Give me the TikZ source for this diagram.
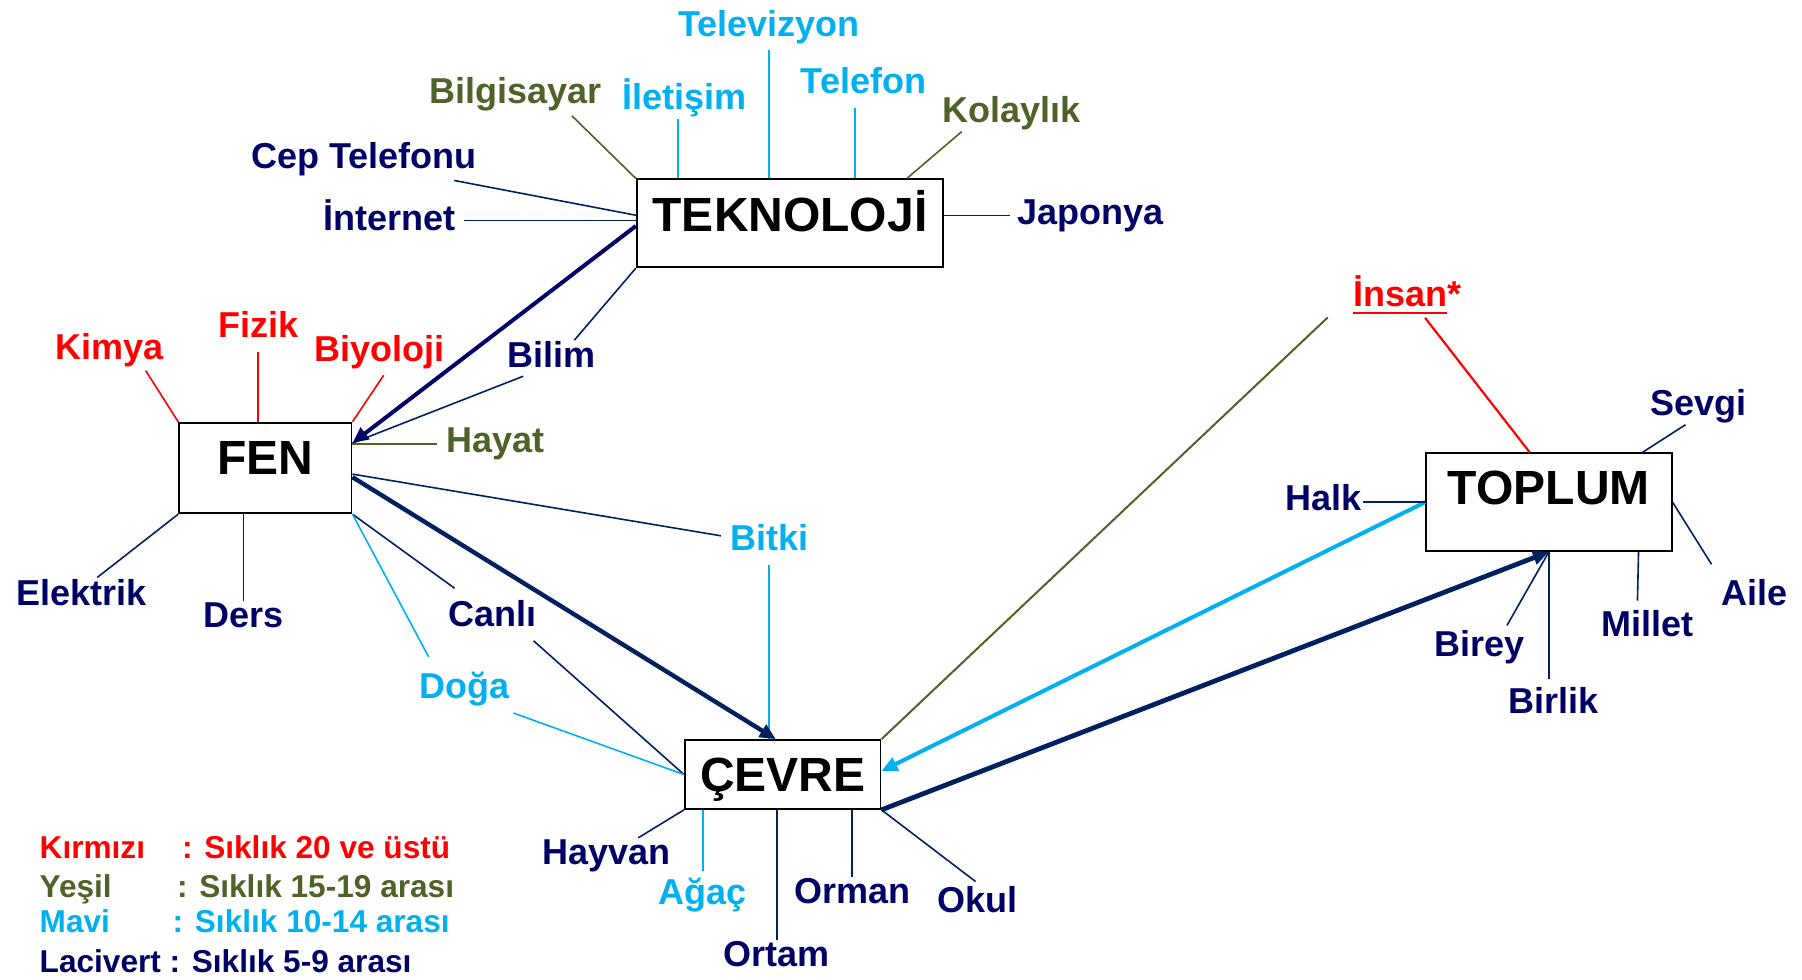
\documentclass[tikz,border=0pt]{standalone}
\usepackage{fontspec}
\setmainfont{Liberation Sans}
\usetikzlibrary{arrows.meta}

\definecolor{kirmizi}{RGB}{255,0,0}
\definecolor{yesil}{RGB}{79,98,40}
\definecolor{mavi}{RGB}{0,176,240}
\definecolor{lacivert}{RGB}{0,0,102}
\definecolor{cizgi}{RGB}{0,32,96}

% underline with a thicker rule
\newcommand{\altcizgi}[1]{\setbox0\hbox{#1}\rlap{\rule[-3.5pt]{\wd0}{1pt}}\box0}

\begin{document}
\begin{tikzpicture}[x=0.5pt, y=-0.5pt,
    kutu/.style={draw=black, line width=0.85pt, fill=white, inner sep=0pt,
      font=\fontsize{24pt}{26pt}\selectfont\bfseries, text height=17.25pt},
    kelime/.style={anchor=base, inner sep=0.5pt,
      font=\fontsize{18pt}{20pt}\selectfont\bfseries},
    lejant/.style={anchor=base west, inner sep=0pt,
      font=\fontsize{15.8pt}{17pt}\selectfont\bfseries},
    ince/.style={line width=0.8pt},
    kalin/.style={line width=2.2pt, -{Triangle[length=8pt,width=7pt]}}]

    \useasboundingbox (0,0) rectangle (1802,979);

    % Main boxes
    \node[kutu, minimum width=153.3pt, minimum height=44pt, text depth=9.55pt] (tek) at (790,223.3) {TEKNOLOJİ};
    \node[kutu, minimum width=86.25pt, minimum height=45.3pt, text depth=11.25pt] (fen) at (265.35,468) {FEN};
    \node[kutu, minimum width=97.9pt, minimum height=34.5pt, text depth=0pt] (cev) at (782.7,774.5) {ÇEVRE};
    \node[kutu, minimum width=122.85pt, minimum height=48.85pt, text depth=14.45pt] (toplum) at (1548.85,502.15) {TOPLUM\hspace{7pt}};

    % Words round TEKNOLOJİ
    \node[kelime, mavi] (tv) at (769.2,36.7) {Televizyon};
    \node[kelime, mavi] (ilet) at (684.9,110) {İletişim};
    \node[kelime, mavi] (tel) at (863.5,94) {Telefon};
    \node[kelime, yesil] (bilg) at (515.3,103.3) {Bilgisayar};
    \node[kelime, yesil] (kol) at (1011.7,122.7) {Kolaylık};
    \node[kelime, lacivert] (cep) at (364,168.3) {Cep Telefonu};
    \node[kelime, lacivert] (inet) at (389.6,230.7) {İnternet};
    \node[kelime, lacivert] (jap) at (1090.9,224) {Japonya};
    \node[kelime, lacivert] (bilim) at (551.2,367.7) {Bilim};

    % Words round FEN
    \node[kelime, kirmizi] (kimya) at (109.9,359.3) {Kimya};
    \node[kelime, kirmizi] (fizik) at (258.1,337.7) {Fizik};
    \node[kelime, kirmizi] (biyo) at (379.1,361.7) {Biyoloji};
    \node[kelime, yesil] (hayat) at (495.5,452.7) {Hayat};
    \node[kelime, lacivert] (elek) at (81.5,605) {Elektrik};
    \node[kelime, lacivert] (ders) at (243.6,627.3) {Ders};
    \node[kelime, lacivert] (canli) at (492.2,626.7) {Canlı};
    \node[kelime, mavi] (doga) at (464.3,698.3) {Doğa};
    \node[kelime, mavi] (bitki) at (769.2,550) {Bitki};

    % Words round ÇEVRE
    \node[kelime, lacivert] (hayvan) at (606.6,864) {Hayvan};
    \node[kelime, mavi] (agac) at (703,904) {Ağaç};
    \node[kelime, lacivert] (ortam) at (776.8,966.7) {Ortam};
    \node[kelime, lacivert] (orman) at (852.2,903.3) {Orman};
    \node[kelime, lacivert] (okul) at (977,912.7) {Okul};

    % Words round TOPLUM
    \node[kelime, kirmizi, anchor=base west] (insan) at (1351.7,306.7) {\altcizgi{İnsan}*};
    \node[kelime, lacivert] (sevgi) at (1698.7,415.7) {Sevgi};
    \node[kelime, lacivert] (halk) at (1323.3,510) {Halk};
    \node[kelime, lacivert] (aile) at (1754.2,605) {Aile};
    \node[kelime, lacivert] (millet) at (1647.5,636) {Millet};
    \node[kelime, lacivert] (birey) at (1479.2,656) {Birey};
    \node[kelime, lacivert] (birlik) at (1553,713.3) {Birlik};

    % Lines of TEKNOLOJİ
    \draw[ince, mavi, shorten <=2pt] (tv.south) -- (tv.south |- tek.north);
    \draw[ince, mavi] ([xshift=-3.45pt]ilet.south) -- ([xshift=-3.45pt]ilet.south |- tek.north);
    \draw[ince, mavi, shorten <=6pt] ([xshift=-4.35pt]tel.south) -- ([xshift=-4.35pt]tel.south |- tek.north);
    \draw[ince, yesil, shorten <=2.5pt] (bilg.-19) -- (tek.north west);
    \draw[ince, yesil] (kol.200) -- (tek.21.5);
    \draw[ince, cizgi, shorten <=8.8pt] (cep.-14) -- (tek.177);
    \draw[ince, cizgi, shorten >=3.5pt] (tek.179) -- (tek.179 -| inet.east);
    \draw[ince, cizgi, shorten <=3.2pt] (jap.west) -- (jap.west -| tek.east);
    \draw[ince, cizgi] (bilim.32) -- (tek.south west);
    \draw[ince, cizgi, shorten <=9.8pt] (bilim.-124) -- (fen.16);
    \draw[kalin, lacivert, line width=2pt] (tek.181) -- (fen.16);

    % Lines of FEN
    \draw[ince, kirmizi, shorten <=1.5pt] (kimya.-28) -- (fen.north west);
    \draw[ince, kirmizi, shorten <=6.5pt] (fizik.south) -- (fizik.south |- fen.north);
    \draw[ince, kirmizi, shorten <=2.8pt] (biyo.-67) -- (fen.north east);
    \draw[ince, yesil, shorten <=4pt] (hayat.west) -- (hayat.west -| fen.east);
    \draw[ince, cizgi] (elek.43) -- (fen.south west);
    \draw[ince, cizgi] (ders.north) -- (ders.north |- fen.south);
    \draw[ince, cizgi, shorten <=4pt] (bitki.west) -- (fen.-4);
    \draw[ince, mavi, shorten <=6.5pt] (bitki.south) -- (bitki.south |- cev.north);
    \draw[ince, cizgi, shorten <=9.3pt] (canli.147) -- (fen.south east);
    \draw[ince, cizgi, shorten <=9.3pt] (canli.-28) -- (cev.west);
    \draw[ince, mavi, shorten <=7.6pt] (doga.147) -- (fen.south east);
    \draw[ince, mavi, shorten <=8.4pt] (doga.-29) -- (cev.west);
    \draw[kalin, cizgi] (fen.-6) -- (cev.101);

    % Lines of ÇEVRE
    \draw[ince, cizgi] (hayvan.29) -- (cev.south west);
    \draw[ince, mavi, shorten <=2.5pt] (agac.north) -- (agac.north |- cev.south);
    \draw[ince, cizgi] (ortam.north) -- (ortam.north |- cev.south);
    \draw[ince, cizgi] (orman.north) -- (orman.north |- cev.south);
    \draw[ince, cizgi, shorten <=3pt] (okul.77) -- (cev.south east);
    \draw[yesil, line width=1pt, shorten >=16.5pt] (cev.north east) -- (insan.west);
    \draw[kalin, mavi, line width=2pt] (toplum.west) -- (cev.2);
    \draw[kalin, cizgi, line width=2.4pt] (cev.south east) -- (toplum.south);

    % Lines of TOPLUM
    \draw[kirmizi, line width=1.1pt, shorten <=1.7pt] (insan.-52) -- (toplum.111);
    \draw[ince, cizgi] (sevgi.-126) -- (toplum.28);
    \draw[ince, cizgi] (toplum.west) -- (toplum.west -| halk.east);
    \draw[ince, cizgi, shorten <=7.8pt] (aile.north west) -- (toplum.east);
    \draw[ince, cizgi, shorten <=4pt] (millet.125) -- (toplum.-29.4);
    \draw[ince, cizgi, shorten <=1.8pt] (birey.35) -- (toplum.south);
    \draw[ince, cizgi, shorten >=3.5pt] (toplum.south) -- (toplum.south |- birlik.north);

    % Legend
    \node[lejant, kirmizi] (kir) at (39.3,858.3) {Kırmızı};
    \node[lejant, kirmizi] (kirv) at (181.7,858.3) {: Sıklık 20 ve üstü};
    \node[lejant, yesil] (yes) at (39.3,897.3) {Yeşil};
    \node[lejant, yesil] (yesv) at (176.7,897.3) {: Sıklık 15-19 arası};
    \node[lejant, mavi] (mav) at (39.3,932.7) {Mavi};
    \node[lejant, mavi] (mavv) at (172.3,932.7) {: Sıklık 10-14 arası};
    \node[lejant, lacivert] (lac) at (39.3,972.7) {Lacivert : Sıklık 5-9 arası};
\end{tikzpicture}
\end{document}
